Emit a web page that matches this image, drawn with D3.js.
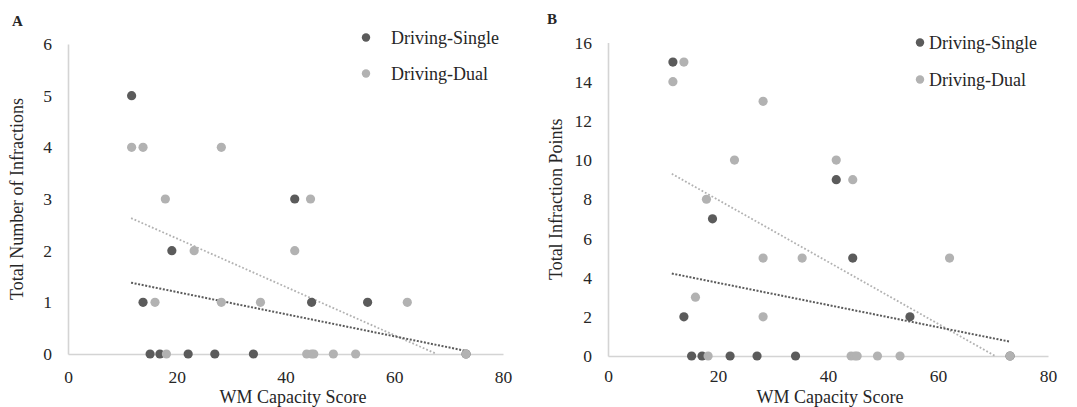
<!DOCTYPE html>
<html><head><meta charset="utf-8">
<script src="https://cdn.jsdelivr.net/npm/d3@7"></script>
<style>
html,body{margin:0;padding:0;background:#fff;}
text{font-family:"Liberation Serif","Times New Roman",serif;fill:#262626;}
</style></head>
<body><svg id="chart" width="1077" height="407"></svg>
<script>
// ---- data ----
const xTicks = [0, 20, 40, 60, 80];
const yTicksA = [0, 1, 2, 3, 4, 5, 6];
const yTicksB = [0, 2, 4, 6, 8, 10, 12, 14, 16];
const seriesNames = ["Driving-Single", "Driving-Dual"];

// Panel A: Total Number of Infractions
const singleAx = [11.7, 13.8, 15.1, 16.9, 19.1, 22.1, 27.0, 34.1, 41.7, 44.8, 55.1, 73.2];
const singleAy = [5, 1, 0, 0, 2, 0, 0, 0, 3, 1, 1, 0];
const dualAx = [11.7, 13.8, 28.2, 17.9, 44.6, 23.2, 41.7, 16.0, 28.2, 35.4, 62.4, 18.1, 43.9, 44.8, 45.2, 48.8, 52.9, 73.2];
const dualAy = [4, 4, 4, 3, 3, 2, 2, 1, 1, 1, 1, 0, 0, 0, 0, 0, 0, 0];

// Panel B: Total Infraction Points
const singleBx = [11.8, 13.8, 15.2, 17.1, 19.0, 22.2, 27.1, 34.1, 41.5, 44.5, 54.9, 73.1];
const singleBy = [15, 2, 0, 0, 7, 0, 0, 0, 9, 5, 2, 0];
const dualBx = [11.8, 13.8, 15.9, 17.9, 18.2, 23.0, 28.2, 28.2, 28.2, 35.3, 41.5, 44.5, 44.2, 44.9, 45.3, 49.0, 53.1, 62.1, 73.1];
const dualBy = [14, 15, 3, 8, 0, 10, 13, 5, 2, 5, 10, 9, 0, 0, 0, 0, 0, 5, 0];

// Linear trendlines (endpoints)
const trendSingleA = [[11.6, 1.38], [73.2, 0.06]];
const trendDualA = [[11.6, 2.63], [67.8, 0]];
const trendSingleB = [[11.6, 4.21], [73.1, 0.73]];
const trendDualB = [[11.6, 9.3], [70.4, 0]];

// ---- styling ----
const darkCol = "#5b5b5b", lightCol = "#b2b2b2", axisCol = "#d4d4d4";
const svg = d3.select("#chart");
const zip = (xs, ys) => xs.map((x, i) => [x, ys[i]]);
const SERIF = '"Liberation Serif","Times New Roman",serif';

function panel(cfg) {
  const g = svg.append("g");
  const x = d3.scaleLinear().domain([0, 80]).range([cfg.left, cfg.right]);
  const y = d3.scaleLinear().domain([0, cfg.yMax]).range([cfg.bottom, cfg.top]);

  // axes
  const ya = g.append("g").attr("transform", `translate(${cfg.left},0)`)
    .call(d3.axisLeft(y).tickValues(cfg.yTicks).tickSize(0).tickPadding(16).tickFormat(d3.format("d")));
  const xa = g.append("g").attr("transform", `translate(0,${cfg.bottom})`)
    .call(d3.axisBottom(x).tickValues(xTicks).tickSize(0).tickPadding(cfg.xPad).tickFormat(d3.format("d")));
  [ya, xa].forEach(a => {
    a.attr("font-family", SERIF);
    a.select(".domain").attr("stroke", axisCol).attr("stroke-width", 1.6);
    a.selectAll("text").style("font-family", SERIF).style("font-size", "17.5px").attr("fill", "#262626");
  });

  // titles
  g.append("text").attr("x", cfg.xtX).attr("y", 403)
    .attr("text-anchor", "middle").style("font-size", "18px").text("WM Capacity Score");
  g.append("text").attr("transform", `translate(${cfg.ytX},${(cfg.top + cfg.bottom) / 2}) rotate(-90)`)
    .attr("text-anchor", "middle").style("font-size", "18px").text(cfg.yTitle);
  g.append("text").attr("x", cfg.letterX).attr("y", cfg.letterY)
    .style("font-size", "15px").style("font-weight", "bold").attr("fill", "#000").text(cfg.letter);

  // trendlines
  const line = d3.line().x(d => x(d[0])).y(d => y(d[1]));
  g.append("path").datum(cfg.trendDual).attr("d", line).attr("fill", "none")
    .attr("stroke", lightCol).attr("stroke-width", 1.8).attr("stroke-dasharray", "1.8,2");
  g.append("path").datum(cfg.trendSingle).attr("d", line).attr("fill", "none")
    .attr("stroke", darkCol).attr("stroke-width", 2).attr("stroke-dasharray", "2,1.6");

  // points
  g.append("g").selectAll("circle").data(cfg.single).join("circle")
    .attr("cx", d => x(d[0])).attr("cy", d => y(d[1])).attr("r", 4.6).attr("fill", darkCol);
  g.append("g").selectAll("circle").data(cfg.dual).join("circle")
    .attr("cx", d => x(d[0])).attr("cy", d => y(d[1])).attr("r", 4.6).attr("fill", lightCol);

  // legend
  const lg = g.append("g");
  [darkCol, lightCol].forEach((c, i) => {
    const ly = cfg.legY + i * cfg.legGap;
    lg.append("circle").attr("cx", cfg.legX).attr("cy", ly).attr("r", 4.2).attr("fill", c);
    lg.append("text").attr("x", cfg.legX + cfg.legTextDx).attr("y", ly + 6)
      .style("font-size", "18px").text(seriesNames[i]);
  });
}

panel({
  left: 68, right: 503, top: 44, bottom: 354, yMax: 6, yTicks: yTicksA, xPad: 17,
  yTitle: "Total Number of Infractions", ytX: 23, xtX: 293, letter: "A", letterX: 12, letterY: 26,
  single: zip(singleAx, singleAy), dual: zip(dualAx, dualAy),
  trendSingle: trendSingleA, trendDual: trendDualA,
  legX: 366, legY: 37.5, legGap: 36, legTextDx: 25
});
panel({
  left: 608, right: 1048, top: 42.5, bottom: 356, yMax: 16, yTicks: yTicksB, xPad: 14,
  yTitle: "Total Infraction Points", ytX: 562, xtX: 830, letter: "B", letterX: 547, letterY: 24,
  single: zip(singleBx, singleBy), dual: zip(dualBx, dualBy),
  trendSingle: trendSingleB, trendDual: trendDualB,
  legX: 920, legY: 42.5, legGap: 37, legTextDx: 9
});
</script>
</body></html>
